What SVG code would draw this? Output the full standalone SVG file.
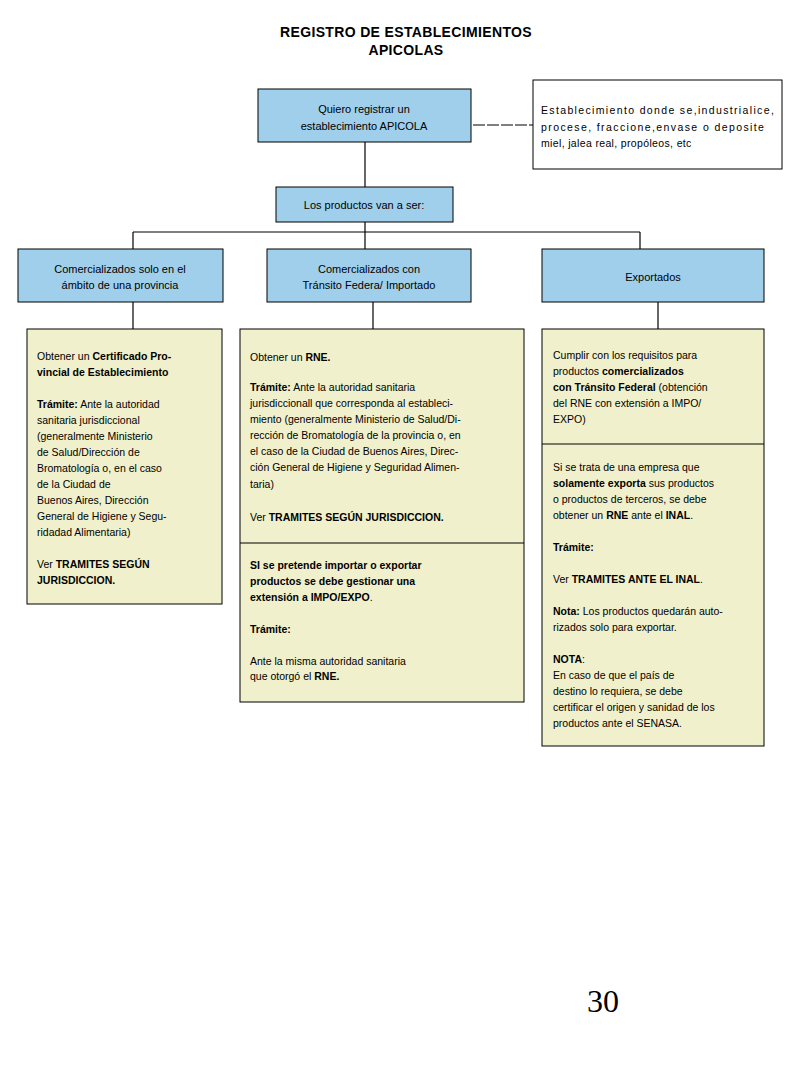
<svg xmlns="http://www.w3.org/2000/svg" width="800" height="1066" viewBox="0 0 800 1066">
<style>
text{font-family:"Liberation Sans",Arial,sans-serif;fill:#000}
.title{font-size:14px;font-weight:bold;text-anchor:middle;letter-spacing:0.35px}
.nb{fill:#a0cfeb;stroke:#000;stroke-width:1}
.dt{fill:#f0f0cc;stroke:#000;stroke-width:1}
.wb{fill:#fff;stroke:#000;stroke-width:1}
.c{font-size:11px;text-anchor:middle}
.t{font-size:10.5px}
.b{font-weight:bold}
.ln{stroke:#000;stroke-width:1.2;fill:none}
.pg{font-family:"Liberation Serif","Times New Roman",serif;font-size:32px;text-anchor:middle}
</style>
<rect width="800" height="1066" fill="#fff"/>
<text class="title" x="406" y="37">REGISTRO DE ESTABLECIMIENTOS</text>
<text class="title" x="406" y="55">APICOLAS</text>

<g id="connectors">
<line class="ln" x1="473" y1="125" x2="533" y2="125" stroke-dasharray="12,2"/>
<line class="ln" x1="365" y1="142" x2="365" y2="187"/>
<line class="ln" x1="365" y1="222" x2="365" y2="249"/>
<line class="ln" x1="133" y1="232" x2="640" y2="232"/>
<line class="ln" x1="133" y1="232" x2="133" y2="249"/>
<line class="ln" x1="640" y1="232" x2="640" y2="249"/>
<line class="ln" x1="133" y1="302" x2="133" y2="329"/>
<line class="ln" x1="373" y1="302" x2="373" y2="329"/>
<line class="ln" x1="658" y1="302" x2="658" y2="329"/>
</g>

<g id="n-quiero">
<rect class="nb" x="258" y="89" width="213" height="53"/>
<text class="c" x="364" y="113">Quiero registrar un</text>
<text class="c" x="364" y="130">establecimiento APICOLA</text>
</g>

<g id="n-nota">
<rect class="wb" x="533" y="80" width="249" height="89"/>
<text class="t" x="541" y="114" letter-spacing="1.35">Establecimiento donde se,industrialice,</text>
<text class="t" x="541" y="131" letter-spacing="1.4">procese, fraccione,envase o deposite</text>
<text class="t" x="541" y="147" letter-spacing="0.35">miel, jalea real, propóleos, etc</text>
</g>

<g id="n-productos">
<rect class="nb" x="276" y="187" width="177" height="35"/>
<text class="c" x="364" y="209">Los productos van a ser:</text>
</g>

<g id="n-provincia">
<rect class="nb" x="18" y="249" width="205" height="53"/>
<text class="c" x="120" y="273">Comercializados solo en el</text>
<text class="c" x="120" y="289">ámbito de una provincia</text>
</g>

<g id="n-federal">
<rect class="nb" x="267" y="249" width="204" height="53"/>
<text class="c" x="369" y="273">Comercializados con</text>
<text class="c" x="369" y="289">Tránsito Federa/ Importado</text>
</g>

<g id="n-exportados">
<rect class="nb" x="542" y="249" width="222" height="53"/>
<text class="c" x="653" y="281">Exportados</text>
</g>

<g id="d-provincia">
<rect class="dt" x="27" y="329" width="195" height="275"/>
<text class="t" x="37" y="360">Obtener un <tspan class="b">Certificado Pro-</tspan></text>
<text class="t b" x="37" y="376">vincial de Establecimiento</text>
<text class="t" x="37" y="408"><tspan class="b">Trámite:</tspan> Ante la autoridad</text>
<text class="t" x="37" y="424">sanitaria jurisdiccional</text>
<text class="t" x="37" y="440">(generalmente Ministerio</text>
<text class="t" x="37" y="456">de Salud/Dirección de</text>
<text class="t" x="37" y="472">Bromatología o, en el caso</text>
<text class="t" x="37" y="488">de la Ciudad de</text>
<text class="t" x="37" y="504">Buenos Aires, Dirección</text>
<text class="t" x="37" y="520">General de Higiene y Segu-</text>
<text class="t" x="37" y="536">ridadad Alimentaria)</text>
<text class="t" x="37" y="568">Ver <tspan class="b">TRAMITES SEGÚN</tspan></text>
<text class="t b" x="37" y="584">JURISDICCION.</text>
</g>

<g id="d-federal">
<rect class="dt" x="240" y="329" width="284" height="373"/>
<line x1="240" y1="543" x2="524" y2="543" stroke="#000" stroke-width="1"/>
<text class="t" x="250" y="361">Obtener un <tspan class="b">RNE.</tspan></text>
<text class="t" x="250" y="391"><tspan class="b">Trámite:</tspan> Ante la autoridad  sanitaria</text>
<text class="t" x="250" y="407">jurisdiccionall que corresponda al estableci-</text>
<text class="t" x="250" y="423">miento (generalmente Ministerio de Salud/Di-</text>
<text class="t" x="250" y="439">rección de Bromatología de la provincia o, en</text>
<text class="t" x="250" y="455">el caso de la Ciudad de Buenos Aires, Direc-</text>
<text class="t" x="250" y="471">ción General de Higiene y Seguridad Alimen-</text>
<text class="t" x="250" y="488">taria)</text>
<text class="t" x="250" y="521">Ver <tspan class="b">TRAMITES SEGÚN JURISDICCION.</tspan></text>
<text class="t b" x="250" y="569">SI se pretende importar o exportar</text>
<text class="t b" x="250" y="585">productos se debe gestionar una</text>
<text class="t" x="250" y="601"><tspan class="b">extensión a IMPO/EXPO</tspan>.</text>
<text class="t b" x="250" y="633">Trámite:</text>
<text class="t" x="250" y="665">Ante la misma autoridad sanitaria</text>
<text class="t" x="250" y="680">que otorgó el <tspan class="b">RNE.</tspan></text>
</g>

<g id="d-exportados">
<rect class="dt" x="542" y="329" width="222" height="417"/>
<line x1="542" y1="444" x2="764" y2="444" stroke="#000" stroke-width="1"/>
<text class="t" x="553" y="359">Cumplir con los requisitos para</text>
<text class="t" x="553" y="375">productos <tspan class="b">comercializados</tspan></text>
<text class="t" x="553" y="391"><tspan class="b">con Tránsito Federal</tspan> (obtención</text>
<text class="t" x="553" y="407">del RNE con extensión a IMPO/</text>
<text class="t" x="553" y="423">EXPO)</text>
<text class="t" x="553" y="471">Si se trata de una empresa que</text>
<text class="t" x="553" y="487"><tspan class="b">solamente exporta</tspan> sus productos</text>
<text class="t" x="553" y="503">o productos de terceros, se debe</text>
<text class="t" x="553" y="519">obtener un <tspan class="b">RNE</tspan> ante el <tspan class="b">INAL</tspan>.</text>
<text class="t b" x="553" y="551">Trámite:</text>
<text class="t" x="553" y="583">Ver <tspan class="b">TRAMITES ANTE EL INAL</tspan>.</text>
<text class="t" x="553" y="615"><tspan class="b">Nota:</tspan> Los productos quedarán auto-</text>
<text class="t" x="553" y="631">rizados solo para exportar.</text>
<text class="t" x="553" y="663"><tspan class="b">NOTA</tspan>:</text>
<text class="t" x="553" y="679">En caso de que el país de</text>
<text class="t" x="553" y="695">destino lo requiera, se debe</text>
<text class="t" x="553" y="711">certificar el origen y sanidad de los</text>
<text class="t" x="553" y="727">productos ante el SENASA.</text>
</g>

<text class="pg" x="603" y="1012">30</text>
</svg>
